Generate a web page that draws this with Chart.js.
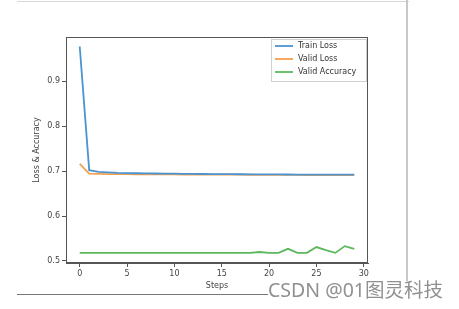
<!DOCTYPE html>
<html>
<head>
<meta charset="utf-8">
<script src="https://cdn.jsdelivr.net/npm/chart.js@4"></script>
<style>
  body { margin: 0; background: #fff; }
  #wrap { position: relative; width: 459px; height: 309px; }
  .ln { position: absolute; }
  #mark {
    position: absolute; left: 268px; top: 278px;
    font-family: "Noto Sans", "Noto Sans CJK SC", sans-serif;
    font-size: 19.5px; color: #909090; white-space: nowrap; line-height: 24px;
  }
</style>
</head>
<body>
<div id="wrap">
  <canvas id="lossChart" width="459" height="309"></canvas>
  <div class="ln" style="left:17px;top:1px;width:392px;height:1px;background:#d8d8d8"></div>
  <div class="ln" style="left:406px;top:0;width:2px;height:281px;background:#c8c8c8"></div>
  <div class="ln" style="left:17px;top:294px;width:251px;height:1px;background:#777"></div>
  <div id="mark">CSDN @01图灵科技</div>
</div>
<script>
const steps = [0, 1, 2, 3, 4, 5, 6, 7, 8, 9, 10, 11, 12, 13, 14, 15, 16, 17, 18, 19, 20, 21, 22, 23, 24, 25, 26, 27, 28, 29];
const trainLoss = [0.977, 0.702, 0.698, 0.697, 0.696, 0.6955, 0.695, 0.6948, 0.6945, 0.6942,
  0.694, 0.6938, 0.6936, 0.6934, 0.6932, 0.693, 0.6929, 0.6928, 0.6927, 0.6926,
  0.6925, 0.6924, 0.6923, 0.6922, 0.6921, 0.692, 0.692, 0.6919, 0.6918, 0.6918];
const validLoss = [0.716, 0.694, 0.6935, 0.6932, 0.693, 0.6929, 0.6928, 0.6927, 0.6926, 0.6925,
  0.6924, 0.6923, 0.6922, 0.6921, 0.692, 0.692, 0.6919, 0.6918, 0.6917, 0.6916,
  0.6915, 0.6915, 0.6914, 0.6913, 0.6912, 0.6912, 0.6911, 0.691, 0.691, 0.6909];
const validAcc = [0.518, 0.518, 0.518, 0.518, 0.518, 0.518, 0.518, 0.518, 0.518, 0.518,
  0.518, 0.518, 0.518, 0.518, 0.518, 0.518, 0.518, 0.518, 0.518, 0.52,
  0.518, 0.518, 0.527, 0.518, 0.518, 0.531, 0.524, 0.518, 0.533, 0.527];
const xTicks = [0, 5, 10, 15, 20, 25, 30];
const yTicks = [0.5, 0.6, 0.7, 0.8, 0.9];

const axisColor = '#555';
const font = { family: 'DejaVu Sans', size: 8 };

function toPoints(values) {
  return values.map((v, i) => ({ x: steps[i], y: v }));
}

// matplotlib-style frame around the plot area plus legend box
const framePlugin = {
  id: 'frame',
  afterDraw(chart) {
    const { ctx, chartArea: a } = chart;
    ctx.save();
    ctx.strokeStyle = axisColor;
    ctx.lineWidth = 1;
    ctx.strokeRect(a.left + 0.5, a.top + 0.5, a.right - a.left - 1, a.bottom - a.top - 1);

    const bx = 271, by = 39, bw = 95, bh = 42;
    ctx.fillStyle = '#fff';
    ctx.strokeStyle = '#d0d0d0';
    ctx.fillRect(bx, by, bw, bh);
    ctx.strokeRect(bx + 0.5, by + 0.5, bw, bh);
    ctx.font = '8px "DejaVu Sans"';
    ctx.textBaseline = 'middle';
    chart.data.datasets.forEach((ds, i) => {
      const y = by + 7 + i * 13;
      ctx.strokeStyle = ds.borderColor;
      ctx.lineWidth = 1.8;
      ctx.beginPath();
      ctx.moveTo(bx + 4, y);
      ctx.lineTo(bx + 22, y);
      ctx.stroke();
      ctx.fillStyle = '#333';
      ctx.fillText(ds.label, bx + 27, y);
    });
    ctx.restore();
  }
};

const ctx = document.getElementById('lossChart').getContext('2d');
new Chart(ctx, {
  type: 'line',
  data: {
    datasets: [
      { label: 'Train Loss', data: toPoints(trainLoss), borderColor: '#4b93d1', borderWidth: 1.8, pointRadius: 0 },
      { label: 'Valid Loss', data: toPoints(validLoss), borderColor: '#f5a04f', borderWidth: 1.8, pointRadius: 0 },
      { label: 'Valid Accuracy', data: toPoints(validAcc), borderColor: '#5cb85c', borderWidth: 1.8, pointRadius: 0 },
    ],
  },
  options: {
    responsive: false,
    animation: false,
    layout: { padding: { left: 28, top: 37, right: 91, bottom: 16 } },
    plugins: { legend: { display: false }, tooltip: { enabled: false } },
    scales: {
      x: {
        type: 'linear',
        min: -1.45,
        max: 30.45,
        afterBuildTicks: (s) => { s.ticks = xTicks.map((v) => ({ value: v })); },
        afterFit: (s) => { s.height = 30; },
        ticks: { font, color: '#444', padding: 2 },
        grid: { drawOnChartArea: false, tickLength: 4, color: axisColor },
        border: { color: axisColor },
        title: { display: true, text: 'Steps', font, color: '#444', padding: 2 },
      },
      y: {
        min: 0.4955,
        max: 0.998,
        afterBuildTicks: (s) => { s.ticks = yTicks.map((v) => ({ value: v })); },
        afterFit: (s) => { s.width = 38; },
        ticks: { font, color: '#444', padding: 2, callback: (v) => v.toFixed(1) },
        grid: { drawOnChartArea: false, tickLength: 4, color: axisColor },
        border: { color: axisColor },
        title: { display: true, text: 'Loss & Accuracy', font, color: '#444', padding: 4 },
      },
    },
  },
  plugins: [framePlugin],
});
</script>
</body>
</html>
